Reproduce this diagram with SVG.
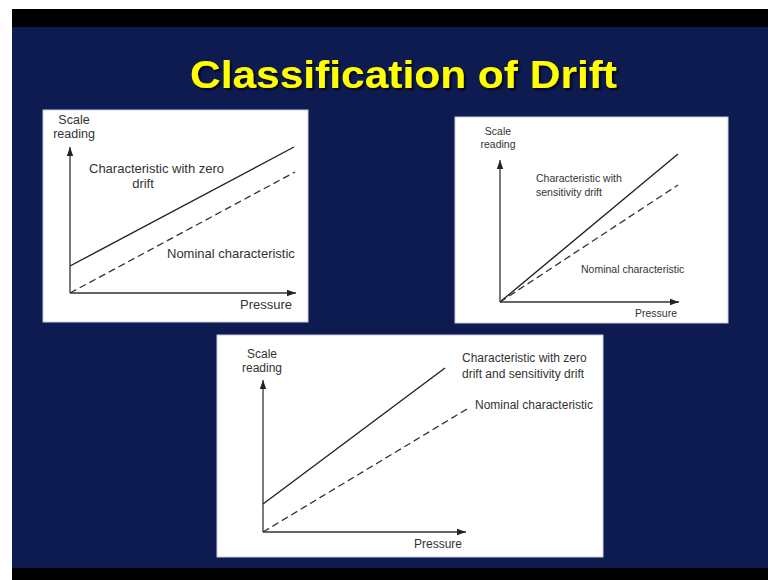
<svg xmlns="http://www.w3.org/2000/svg" width="768" height="580" viewBox="0 0 768 580">
<defs>
<marker id="arr" markerUnits="userSpaceOnUse" markerWidth="10" markerHeight="8" refX="9" refY="4" orient="auto">
<path d="M0,0.8 L9,4 L0,7.2 Z" fill="#222"/>
</marker>
<filter id="shadow" x="-5%" y="-30%" width="115%" height="170%">
<feGaussianBlur in="SourceAlpha" stdDeviation="1.3" result="b"/>
<feOffset in="b" dx="2" dy="2" result="o"/>
<feFlood flood-color="#000" flood-opacity="0.85"/>
<feComposite in2="o" operator="in" result="s"/>
<feMerge><feMergeNode in="s"/><feMergeNode in="SourceGraphic"/></feMerge>
</filter>
</defs>
<style>
.panel{fill:#fff;stroke:#c8cde0;stroke-width:1}
.axis{stroke:#333;stroke-width:1.3;fill:none;marker-end:url(#arr)}
.solid{stroke:#222;stroke-width:1.4;fill:none}
.dash{stroke:#333;stroke-width:1.3;fill:none;stroke-dasharray:7 4}
.t{font-family:"Liberation Sans",Arial,sans-serif;fill:#333}
.title{font-family:"Liberation Sans",Arial,sans-serif;font-weight:bold;font-size:39px;fill:#ffff00}
</style>
<rect x="0" y="0" width="768" height="580" fill="#fff"/>
<rect x="12" y="9" width="756" height="571" fill="#000"/>
<rect x="12" y="27" width="756" height="541" fill="#0e1b50"/>

<g id="title">
<text class="title" x="190" y="88" textLength="427" lengthAdjust="spacingAndGlyphs" filter="url(#shadow)">Classification of Drift</text>
</g>

<g id="panel-zero-drift">
<rect class="panel" x="43" y="110" width="265" height="212"/>
<line class="axis" x1="70" y1="293" x2="70" y2="147"/>
<line class="axis" x1="70" y1="293" x2="296" y2="293"/>
<line class="solid" x1="70" y1="266" x2="294" y2="147"/>
<line class="dash" x1="70" y1="293" x2="295" y2="172"/>
<text class="t" font-size="12.5" x="74" y="124" text-anchor="middle">Scale</text>
<text class="t" font-size="12.5" x="74" y="138" text-anchor="middle">reading</text>
<text class="t" font-size="13" x="89" y="173">Characteristic with zero</text>
<text class="t" font-size="13" x="143" y="188" text-anchor="middle">drift</text>
<text class="t" font-size="13" x="167" y="258">Nominal characteristic</text>
<text class="t" font-size="13" x="240" y="309">Pressure</text>
</g>

<g id="panel-sensitivity-drift">
<rect class="panel" x="455" y="117" width="273" height="206"/>
<line class="axis" x1="500" y1="302" x2="500" y2="160"/>
<line class="axis" x1="500" y1="302" x2="679" y2="302"/>
<line class="solid" x1="500" y1="302" x2="678" y2="154"/>
<line class="dash" x1="500" y1="302" x2="678" y2="185"/>
<text class="t" font-size="10.5" x="498" y="135" text-anchor="middle">Scale</text>
<text class="t" font-size="10.5" x="498" y="148" text-anchor="middle">reading</text>
<text class="t" font-size="10.5" x="536" y="182">Characteristic with</text>
<text class="t" font-size="10.5" x="536" y="196">sensitivity drift</text>
<text class="t" font-size="10.5" x="581" y="273">Nominal characteristic</text>
<text class="t" font-size="10.5" x="635" y="317">Pressure</text>
</g>

<g id="panel-both-drift">
<rect class="panel" x="217" y="335" width="386" height="222"/>
<line class="axis" x1="263" y1="532" x2="263" y2="380"/>
<line class="axis" x1="263" y1="532" x2="466" y2="532"/>
<line class="solid" x1="263" y1="504" x2="445" y2="368"/>
<line class="dash" x1="263" y1="532" x2="467" y2="409"/>
<text class="t" font-size="12" x="262" y="358" text-anchor="middle">Scale</text>
<text class="t" font-size="12" x="262" y="372" text-anchor="middle">reading</text>
<text class="t" font-size="12" x="462" y="362">Characteristic with zero</text>
<text class="t" font-size="12" x="462" y="378">drift and sensitivity drift</text>
<text class="t" font-size="12" x="475" y="409">Nominal characteristic</text>
<text class="t" font-size="12" x="414" y="548">Pressure</text>
</g>
</svg>
